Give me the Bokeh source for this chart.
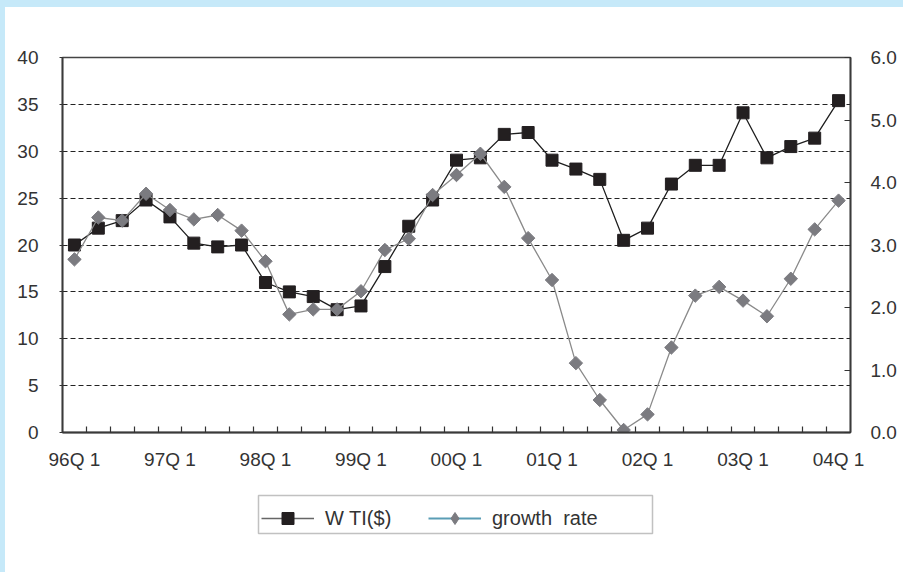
import math
from bokeh.plotting import figure
from bokeh.layouts import column
from bokeh.models import (Range1d, LinearAxis, FixedTicker, Legend, LegendItem,
                          PrintfTickFormatter, BoxAnnotation)
from bokeh.embed import file_html
from bokeh.resources import INLINE

# ---------------- data ----------------
quarters = ["96Q1", "96Q2", "96Q3", "96Q4",
            "97Q1", "97Q2", "97Q3", "97Q4",
            "98Q1", "98Q2", "98Q3", "98Q4",
            "99Q1", "99Q2", "99Q3", "99Q4",
            "00Q1", "00Q2", "00Q3", "00Q4",
            "01Q1", "01Q2", "01Q3", "01Q4",
            "02Q1", "02Q2", "02Q3", "02Q4",
            "03Q1", "03Q2", "03Q3", "03Q4",
            "04Q1"]

tick_labels = ["96Q 1", "97Q 1", "98Q 1", "99Q 1", "00Q 1",
               "01Q 1", "02Q 1", "03Q 1", "04Q 1"]

wti = [20.0, 21.8, 22.6, 24.8, 23.0, 20.2, 19.8, 20.0,
       16.0, 15.0, 14.5, 13.1, 13.5, 17.7, 22.0, 24.8,
       29.05, 29.3, 31.8, 32.0, 29.05, 28.1, 27.0, 20.5,
       21.8, 26.5, 28.5, 28.5, 34.1, 29.3, 30.5, 31.4, 35.4]

growth = [2.77, 3.44, 3.39, 3.82, 3.56, 3.41, 3.48, 3.23,
          2.74, 1.89, 1.97, 1.97, 2.26, 2.92, 3.10, 3.80,
          4.12, 4.46, 3.93, 3.11, 2.44, 1.11, 0.52, 0.04,
          0.29, 1.36, 2.19, 2.33, 2.11, 1.86, 2.46, 3.25, 3.71]

left_ticks = [0, 5, 10, 15, 20, 25, 30, 35, 40]
right_ticks = [0, 1, 2, 3, 4, 5, 6]
series_names = ["W TI($)", "growth  rate"]

# ---------------- main figure ----------------
FONT = "Liberation Sans"
TXT = "#333333"
BL, BR = 62, 53          # left / right borders (frame spans 62..850 px)
x = list(range(len(quarters)))

p = figure(width=903, height=472, output_backend="svg", toolbar_location=None,
           x_range=Range1d(-0.5, len(quarters) - 0.5), y_range=Range1d(0, 40),
           min_border_left=BL, min_border_right=BR, min_border_top=57,
           min_border_bottom=40, background_fill_color="white",
           border_fill_color="white", border_fill_alpha=0.0,
           outline_line_color="#444444", outline_line_width=1.5)
p.extra_y_ranges = {"g": Range1d(0, 6)}

# x axis
xa = p.xaxis[0]
label_pos = [i for i, q in enumerate(quarters) if q.endswith("Q1")]
xa.ticker = FixedTicker(ticks=label_pos,
                        minor_ticks=[i + 0.5 for i in range(len(quarters) - 1)])
xa.major_label_overrides = {i: lab for i, lab in zip(label_pos, tick_labels)}
xa.major_tick_in = 0
xa.major_tick_out = 0
xa.minor_tick_in = 6
xa.minor_tick_out = 0
xa.minor_tick_line_color = "#333333"
xa.minor_tick_line_width = 1.2
xa.major_label_standoff = 16

# left axis
ya = p.yaxis[0]
ya.ticker = FixedTicker(ticks=left_ticks)
ya.major_tick_in = 0
ya.major_tick_out = 3
ya.minor_tick_in = 0
ya.minor_tick_out = 0
ya.major_label_standoff = 21

# right axis
ra = LinearAxis(y_range_name="g", ticker=FixedTicker(ticks=right_ticks),
                formatter=PrintfTickFormatter(format="%.1f"))
ra.major_tick_in = 6
ra.major_tick_out = 0
ra.minor_tick_in = 0
ra.minor_tick_out = 0
ra.major_label_standoff = 20
p.add_layout(ra, "right")

for ax in (xa, ya, ra):
    ax.axis_line_color = "#3a3a3a"
    ax.axis_line_width = 1.8
    ax.major_tick_line_color = "#333333"
    ax.major_label_text_font = FONT
    ax.major_label_text_font_size = "19px"
    ax.major_label_text_color = TXT

p.xgrid.visible = False
p.ygrid.ticker = FixedTicker(ticks=left_ticks[1:-1])
p.ygrid.grid_line_color = "#222222"
p.ygrid.grid_line_dash = "5 3"
p.ygrid.grid_line_width = 1

# series
p.line(x, wti, line_color="#1e1e1e", line_width=1.3)
p.scatter(x, wti, marker="square", size=12, fill_color="#231f20",
          line_color="#231f20")
p.line(x, growth, y_range_name="g", line_color="#8a8a8a", line_width=1.3)
p.scatter(x, growth, y_range_name="g", marker="square", angle=math.pi / 4,
          size=9.5, fill_color="#7b7b80", line_color="#7b7b80")

# ---------------- legend strip ----------------
# frame aligned with the main frame; ranges in page pixels for the box
lf = figure(width=903, height=100, output_backend="svg", toolbar_location=None,
            x_range=Range1d(BL, 903 - BR), y_range=Range1d(100, 0),
            min_border_left=BL, min_border_right=BR, min_border_top=0,
            min_border_bottom=0, border_fill_alpha=0.0,
            background_fill_alpha=0.0, outline_line_color=None)
lf.axis.visible = False
lf.grid.visible = False

box = BoxAnnotation(left=258, right=652, top=23, bottom=61,
                    fill_color="white", fill_alpha=1.0,
                    line_color="#333333", line_width=1.5)
lf.add_layout(box)

# renderers that only lend their style to the legend (the legend box uses
# a grey line for WTI and a teal line for the growth rate)
lw = lf.line(x, wti, line_color="#666666", line_width=1.5, visible=False)
mw = lf.scatter(x, wti, marker="square", size=12, fill_color="#231f20",
                line_color="#231f20", visible=False)
lg = lf.line(x, growth, line_color="#5a9db5", line_width=2, visible=False)
mg = lf.scatter(x, growth, marker="diamond", size=14, fill_color="#7b7b80",
                line_color="#7b7b80", visible=False)

legend = Legend(items=[LegendItem(label=series_names[0], renderers=[lw, mw]),
                       LegendItem(label=series_names[1], renderers=[lg, mg])],
                orientation="horizontal", location=(261 - BL, 39), margin=0,
                padding=4, spacing=19, label_standoff=11,
                glyph_width=53, glyph_height=30, label_width=84,
                label_height=30, label_text_font=FONT,
                label_text_font_size="20px", label_text_color=TXT,
                border_line_color=None, background_fill_alpha=0.0,
                inactive_fill_alpha=0.0)
lf.add_layout(legend)

layout = column(p, lf, spacing=0)

html = file_html(layout, INLINE)
style = ("<style>html, body { background: "
         "linear-gradient(to bottom, #c6e9f9 7px, rgba(255,255,255,0) 7px), "
         "linear-gradient(to right, #c6e9f9 5px, #ffffff 5px) !important; "
         "background-repeat: no-repeat !important; }</style>")
html = html.replace("</head>", style + "</head>", 1)
open("out.html", "w").write(html)
